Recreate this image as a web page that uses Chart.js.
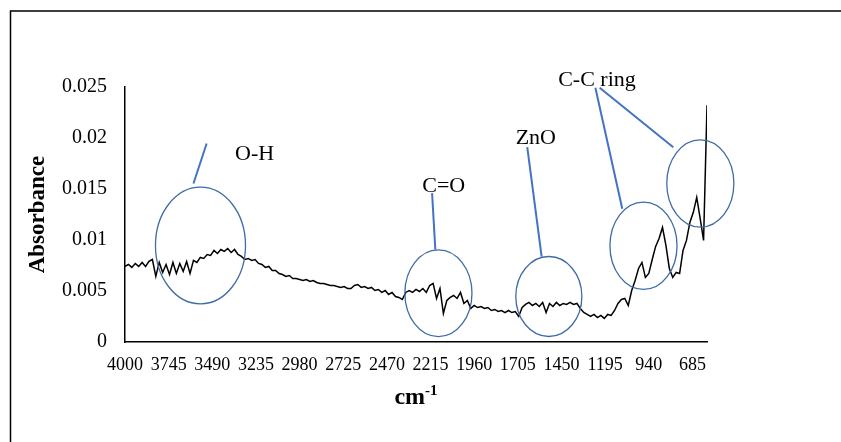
<!DOCTYPE html>
<html>
<head>
<meta charset="utf-8">
<title>FTIR absorbance</title>
<script src="https://cdn.jsdelivr.net/npm/chart.js@4.4.1/dist/chart.umd.min.js"></script>
<style>
  html, body { margin: 0; padding: 0; background: #fff; }
  canvas { display: block; }
</style>
</head>
<body>
<canvas id="chartFtir" width="841" height="442"></canvas>
<script>
// wavenumber grid: 4000 -> 600 cm-1, one reading every 20 cm-1
const WN_START = 4000;
const WN_STEP = 20;

// absorbance, one value per grid point
const absorbance = [
  0.00741, 0.00760, 0.00731, 0.00770, 0.00741, 0.00780, 0.00741, 0.00790, 0.00809, 0.00643,
  0.00780, 0.00682, 0.00760, 0.00662, 0.00780, 0.00672, 0.00770, 0.00692, 0.00790, 0.00672,
  0.00800, 0.00780, 0.00829, 0.00819, 0.00858, 0.00849, 0.00898, 0.00868, 0.00907, 0.00888,
  0.00917, 0.00878, 0.00907, 0.00858, 0.00839, 0.00809, 0.00819, 0.00800, 0.00809, 0.00770,
  0.00760, 0.00731, 0.00741, 0.00701, 0.00701, 0.00672, 0.00662, 0.00643, 0.00652, 0.00623,
  0.00623, 0.00613, 0.00603, 0.00613, 0.00594, 0.00603, 0.00584, 0.00574, 0.00574, 0.00564,
  0.00554, 0.00554, 0.00544, 0.00535, 0.00544, 0.00525, 0.00525, 0.00554, 0.00564, 0.00535,
  0.00544, 0.00525, 0.00535, 0.00505, 0.00515, 0.00486, 0.00505, 0.00466, 0.00486, 0.00446,
  0.00437, 0.00417, 0.00486, 0.00505, 0.00486, 0.00515, 0.00495, 0.00525, 0.00486, 0.00554,
  0.00574, 0.00427, 0.00525, 0.00280, 0.00407, 0.00437, 0.00456, 0.00427, 0.00486, 0.00378,
  0.00407, 0.00329, 0.00358, 0.00338, 0.00348, 0.00329, 0.00338, 0.00309, 0.00319, 0.00299,
  0.00309, 0.00289, 0.00309, 0.00289, 0.00299, 0.00250, 0.00338, 0.00368, 0.00388, 0.00358,
  0.00378, 0.00348, 0.00388, 0.00289, 0.00378, 0.00348, 0.00388, 0.00358, 0.00378, 0.00368,
  0.00388, 0.00368, 0.00378, 0.00329, 0.00289, 0.00270, 0.00250, 0.00270, 0.00240, 0.00260,
  0.00231, 0.00270, 0.00260, 0.00309, 0.00378, 0.00417, 0.00427, 0.00358, 0.00505, 0.00603,
  0.00721, 0.00780, 0.00633, 0.00672, 0.00809, 0.00937, 0.01015, 0.01123, 0.00947, 0.00721,
  0.00633, 0.00682, 0.00672, 0.00898, 0.00996, 0.01172, 0.01271, 0.01418, 0.01212, 0.00996,
  0.02320,
];

const wavenumbers = absorbance.map((_, i) => WN_START - i * WN_STEP);

const xTicks = [4000, 3745, 3490, 3235, 2980, 2725, 2470, 2215, 1960, 1705, 1450, 1195, 940, 685];
const yTicks = [0, 0.005, 0.01, 0.015, 0.02, 0.025];

// band markers (data units): label baseline, pointer line, ellipse
const bandLabels = [
  { text: 'O-H', x: 3243, y: 0.01789 },
  { text: 'C=O', x: 2138, y: 0.01466 },
  { text: 'ZnO', x: 1600, y: 0.01946 },
  { text: 'C-C ring', x: 1243, y: 0.02505 },
];
const pointerLines = [
  [3600, 0.01554, 3523, 0.01946],
  [2206, 0.01459, 2187, 0.00904],
  [1650, 0.0191, 1566, 0.00838],
  [1252, 0.02492, 1095, 0.01306],
  [1227, 0.02492, 797, 0.0191],
];
const ellipses = [
  { x: 3559, y: 0.00946, rx: 263, ry: 0.00572 },
  { x: 2169, y: 0.00478, rx: 196, ry: 0.00425 },
  { x: 1524, y: 0.00446, rx: 193, ry: 0.00392 },
  { x: 971, y: 0.00943, rx: 196, ry: 0.00428 },
  { x: 639, y: 0.01554, rx: 196, ry: 0.00428 },
];

const SERIF = "'Liberation Serif', 'Times New Roman', serif";

const frame = {
  id: 'frame',
  beforeDraw(chart) {
    const ctx = chart.ctx;
    ctx.save();
    ctx.fillStyle = '#fff';
    ctx.fillRect(0, 0, chart.width, chart.height);
    ctx.strokeStyle = '#000';
    ctx.lineWidth = 1.5;
    ctx.strokeRect(10.5, 11, 1000, 1000);
    ctx.restore();
  },
};

const bandMarks = {
  id: 'bandMarks',
  afterDraw(chart) {
    const { ctx, chartArea } = chart;
    const xs = chart.scales.x;
    const ys = chart.scales.y;
    ctx.save();

    ctx.strokeStyle = '#4472C4';
    ctx.lineWidth = 2;
    pointerLines.forEach(([x1, y1, x2, y2]) => {
      ctx.beginPath();
      ctx.moveTo(xs.getPixelForValue(x1), ys.getPixelForValue(y1));
      ctx.lineTo(xs.getPixelForValue(x2), ys.getPixelForValue(y2));
      ctx.stroke();
    });

    ctx.strokeStyle = '#3F6CA6';
    ctx.lineWidth = 1.3;
    ellipses.forEach((e) => {
      const cx = xs.getPixelForValue(e.x);
      const cy = ys.getPixelForValue(e.y);
      const rx = Math.abs(xs.getPixelForValue(e.x + e.rx) - cx);
      const ry = Math.abs(ys.getPixelForValue(e.y + e.ry) - cy);
      ctx.beginPath();
      ctx.ellipse(cx, cy, rx, ry, 0, 0, Math.PI * 2);
      ctx.stroke();
    });

    ctx.fillStyle = '#000';
    ctx.font = `22px ${SERIF}`;
    ctx.textAlign = 'center';
    ctx.textBaseline = 'alphabetic';
    bandLabels.forEach((l) => {
      ctx.fillText(l.text, xs.getPixelForValue(l.x), ys.getPixelForValue(l.y));
    });

    // x axis title with superscript
    const mid = (chartArea.left + chartArea.right) / 2;
    const base = chartArea.bottom + 62;
    ctx.font = `bold 24px ${SERIF}`;
    const wMain = ctx.measureText('cm').width;
    ctx.font = `bold 15px ${SERIF}`;
    const wSup = ctx.measureText('-1').width;
    const startX = mid - (wMain + wSup) / 2;
    ctx.textAlign = 'left';
    ctx.font = `bold 24px ${SERIF}`;
    ctx.fillText('cm', startX, base);
    ctx.font = `bold 15px ${SERIF}`;
    ctx.fillText('-1', startX + wMain, base - 9);

    ctx.restore();
  },
};

new Chart(document.getElementById('chartFtir'), {
  type: 'line',
  data: {
    datasets: [
      {
        data: absorbance.map((a, i) => ({ x: wavenumbers[i], y: a })),
        borderColor: '#000',
        borderWidth: 1.5,
        pointRadius: 0,
        tension: 0,
        fill: false,
      },
    ],
  },
  options: {
    responsive: false,
    animation: false,
    devicePixelRatio: 1,
    layout: { padding: { left: 10, top: 87, right: 134, bottom: 0 } },
    plugins: {
      legend: { display: false },
      tooltip: { enabled: false },
    },
    scales: {
      x: {
        type: 'linear',
        reverse: true,
        min: 600,
        max: 4000,
        afterBuildTicks: (scale) => {
          scale.ticks = xTicks.map((v) => ({ value: v }));
        },
        afterFit: (scale) => {
          scale.height = 100;
        },
        grid: { display: false, drawTicks: false },
        border: { color: '#000', width: 1.5 },
        ticks: {
          autoSkip: false,
          maxRotation: 0,
          padding: 12,
          color: '#000',
          font: { family: SERIF, size: 18 },
          callback: (value) => String(value),
        },
      },
      y: {
        min: 0,
        max: 0.025,
        afterBuildTicks: (scale) => {
          scale.ticks = yTicks.map((v) => ({ value: v }));
        },
        afterFit: (scale) => {
          scale.width = 115;
        },
        grid: { display: false, drawTicks: false },
        border: { color: '#000', width: 1.5 },
        ticks: {
          padding: 18,
          color: '#000',
          font: { family: SERIF, size: 20 },
          callback: (value) => String(value),
        },
        title: {
          display: true,
          text: 'Absorbance',
          color: '#000',
          padding: { top: 14, bottom: 0 },
          font: { family: SERIF, size: 23, weight: 'bold' },
        },
      },
    },
  },
  plugins: [frame, bandMarks],
});
</script>
</body>
</html>
